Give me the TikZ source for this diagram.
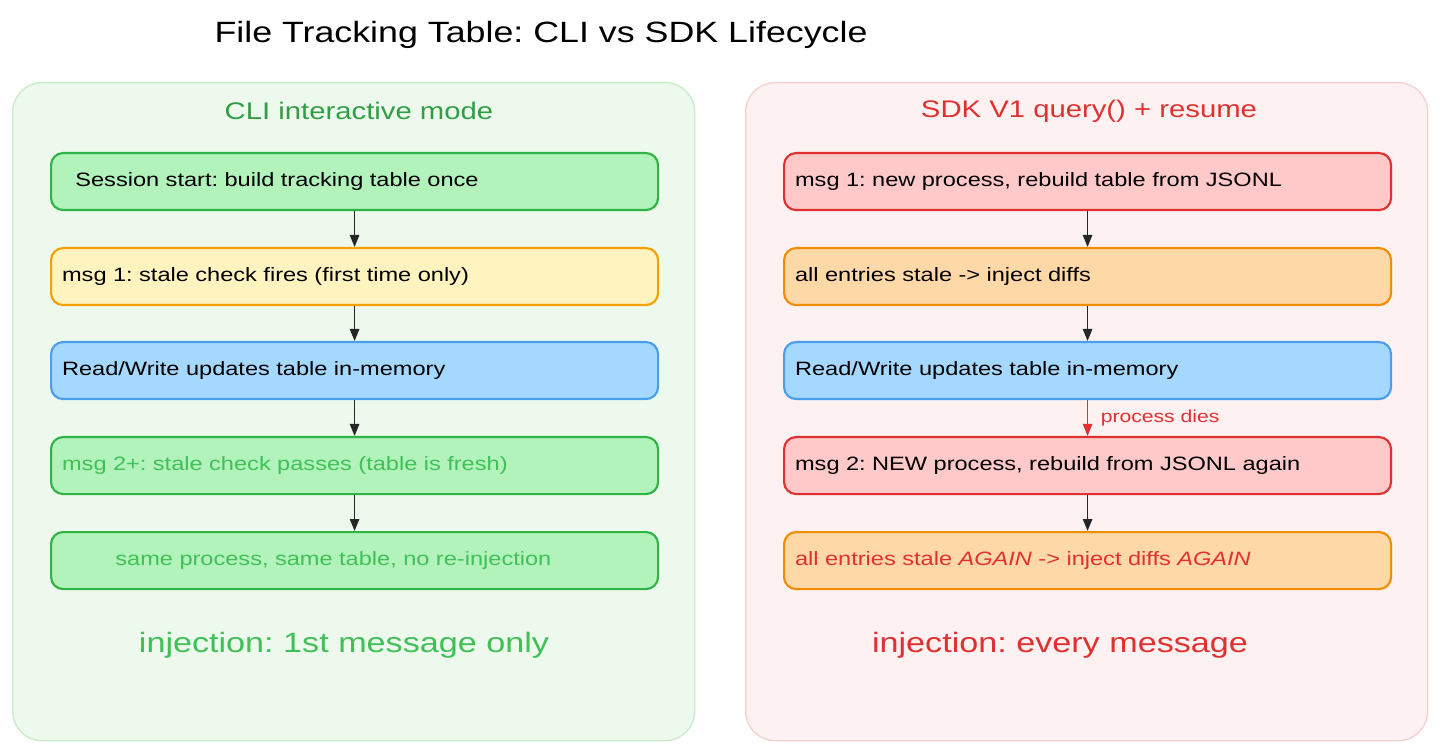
\documentclass[tikz,border=0pt]{standalone}
\usepackage{fontspec}
\setmainfont{Liberation Sans}[FakeStretch=1.22]
\frenchspacing
\usetikzlibrary{arrows.meta}
\definecolor{gfill}{HTML}{B2F2BB}\definecolor{gdraw}{HTML}{2FB344}
\definecolor{yfill}{HTML}{FFF3BF}\definecolor{ydraw}{HTML}{F59F00}
\definecolor{bfill}{HTML}{A5D8FF}\definecolor{bdraw}{HTML}{4A9EED}
\definecolor{rfill}{HTML}{FFC9C9}\definecolor{rdraw}{HTML}{E03131}
\definecolor{ofill}{HTML}{FFD8A8}\definecolor{odraw}{HTML}{F08C00}
\definecolor{gpanel}{HTML}{EEF9EE}\definecolor{gpdraw}{HTML}{C8ECC8}
\definecolor{rpanel}{HTML}{FEF1F1}\definecolor{rpdraw}{HTML}{F5D0D0}
\definecolor{gtext}{HTML}{2F9E44}\definecolor{gtext2}{HTML}{40C057}
\tikzset{
 panel/.style={rounded corners=22, line width=1pt, minimum width=682*0.75pt, minimum height=658*0.75pt, anchor=north west},
 box/.style={rounded corners=9, line width=1.6pt, minimum width=607*0.75pt, minimum height=57*0.75pt, anchor=north west, text width=585*0.75pt, align=left, font=\fontsize{14.5}{16}\selectfont},
 arr/.style={-{Stealth[length=9pt,width=7pt,inset=0pt]}, line width=1.3pt, black!85},
}
\begin{document}
\begin{tikzpicture}[x=0.75pt,y=-0.75pt]
\useasboundingbox (0,0) rectangle (1440,752);
\fill[white] (0,0) rectangle (1440,752);
\node (title) at (541,35) {\fontsize{22}{26}\selectfont File Tracking Table: CLI vs SDK Lifecycle};
\node[panel, fill=gpanel, draw=gpdraw] (lp) at (12,82) {};
\node[panel, fill=rpanel, draw=rpdraw] (rp) at (745,82) {};
\node[text=gtext, font=\fontsize{18}{22}\selectfont] (lh) at (359,111) {CLI interactive mode};
\node[text=rdraw, font=\fontsize{18}{22}\selectfont] (rh) at (1089,111) {SDK V1 query() + resume};
% left
\node[box, fill=gfill, draw=gdraw] (l1) at (50,152) {\hspace*{10pt}Session start: build tracking table once};
\node[box, fill=yfill, draw=ydraw] (l2) at (50,247) {msg 1: stale check fires (first time only)};
\node[box, fill=bfill, draw=bdraw] (l3) at (50,341) {Read/Write updates table in-memory};
\node[box, fill=gfill, draw=gdraw, text=gtext2] (l4) at (50,436) {msg 2+: stale check passes (table is fresh)};
\node[box, fill=gfill, draw=gdraw, text=gtext2] (l5) at (50,531) {\hspace*{40pt}same process, same table, no re-injection};
% right
\node[box, fill=rfill, draw=rdraw] (r1) at (783,152) {msg 1: new process, rebuild table from JSONL};
\node[box, fill=ofill, draw=odraw] (r2) at (783,247) {all entries stale -> inject diffs};
\node[box, fill=bfill, draw=bdraw] (r3) at (783,341) {Read/Write updates table in-memory};
\node[box, fill=rfill, draw=rdraw] (r4) at (783,436) {msg 2: NEW process, rebuild from JSONL again};
\node[box, fill=ofill, draw=odraw, text=rdraw] (r5) at (783,531) {all entries stale \textit{AGAIN} -> inject diffs \textit{AGAIN}};
\foreach \a/\b in {l1/l2,l2/l3,l3/l4,l4/l5,r1/r2,r2/r3,r4/r5}{
 \draw[arr] (\a.south) -- (\b.north);}
\draw[arr, draw=rdraw, fill=rdraw, line width=1.1pt] (r3.south) -- (r4.north) node[midway, right=6pt, text=rdraw, font=\fontsize{13}{15}\selectfont] {process dies};
\node[text=gtext2, font=\fontsize{21}{25}\selectfont] (lf) at (344,645) {injection: 1st message only};
\node[text=rdraw, font=\fontsize{21}{25}\selectfont] (rf) at (1060,645) {injection: every message};
\end{tikzpicture}
\end{document}
